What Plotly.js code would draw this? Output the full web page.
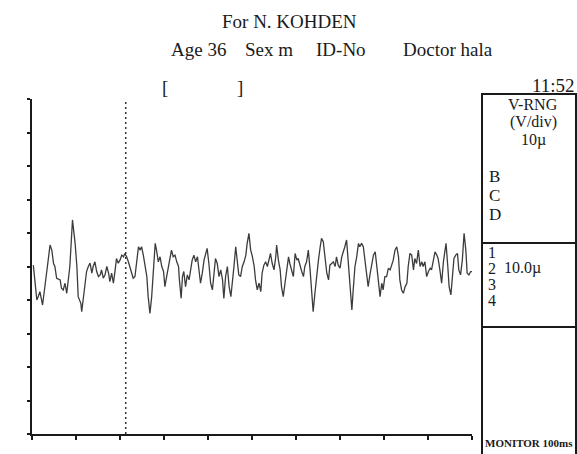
<!DOCTYPE html>
<html>
<head>
<meta charset="utf-8">
<script src="https://cdn.plot.ly/plotly-3.0.1.min.js"></script>
<style>html,body{margin:0;padding:0;background:#fff;}#chart{width:577px;height:454px;}</style>
</head>
<body>
<div id="chart"></div>
<script>
// Sweep time (ms) and amplitude (µV)
const timeMs = [3,11,14,18,24,30,35,41,45,49,52,56,64,67,71,75,79,86,92,98,
102,105,111,113,117,121,124,128,132,136,139,143,147,151,155,158,162,166,170,174,
177,181,185,189,192,196,200,204,208,211,215,219,223,227,230,234,238,242,246,249,
253,257,261,264,268,272,276,280,283,287,291,295,299,302,306,310,314,317,321,325,
329,333,335,339,342,345,349,353,357,361,364,368,372,376,380,383,387,391,395,398,
402,406,410,414,417,421,425,429,433,436,440,444,448,452,455,459,463,467,470,474,
478,482,486,489,493,497,501,505,508,512,516,520,523,527,531,535,539,542,546,550,
554,556,560,564,567,571,575,579,583,586,590,594,598,602,605,609,613,617,620,624,
628,632,636,639,643,647,651,655,658,662,666,670,674,677,681,685,689,692,696,700,
704,708,711,715,719,723,727,730,734,738,742,745,749,753,757,761,764,768,772,776,
780,783,787,791,795,798,802,806,810,814,817,821,825,829,833,836,840,844,848,852,
855,859,863,867,870,874,878,882,886,889,893,897,901,905,908,912,916,920,923,927,
931,935,939,941,945,948,952,955,959,963,967,970,974,978,982,986,989,993,997,1000];
const ampUV = [0.4,-10,-9,-7.5,-11.5,-6,0,6.4,4.9,0.9,0,-3.5,-4,-6.5,-7,-5,-8,0,13.9,6.9,
0,-9,-11,-13.5,-9,-3,-1.5,0,1,-2,0,1.4,-1.5,-3,-2.5,-1,-3.5,-2.5,0,-2,
-4.5,-2,-5,-1,2.4,1,1.9,3.4,2.9,3.9,2.9,1.4,-0.5,-2.5,-3.5,-3,1.4,5.9,4.9,5.9,
3.4,0.4,-3,-9,-14,-9,0,6.9,4.9,1.4,2.9,0,-1.5,-6,-3,0,2.9,4.9,2.9,3.4,
1.4,0,-4,-9.5,-3,-1.5,-6,-2.5,-4,0,1.9,3.4,1.4,2.9,-1.5,-5,-2,1.9,3.9,5.4,
0.9,-5,-7,0,2.4,0.9,-3,-1,-4,-9.5,-3,0,-6,-9,-4,0,5.9,1.9,-2.5,-3,
0,1.4,3.4,6.9,9.9,4.9,2.9,0,-4,-7,-5,-7.5,-2,0.4,1.4,0,2.4,3.9,0.9,-1,
2.9,6.4,1.9,-1,-6,-9,-5,0,2.9,0.9,-1,-3,3.9,1.9,2.4,0,-1.5,-3,0,1.4,
4.9,-1,-8,-13.5,-8,-2,1.9,5.9,8.4,7.4,1.9,-2,-4,0.4,0.9,1.4,0,2.9,0.4,-0.5,
2.9,4.4,5.9,7.9,0.9,-7,-13,-7,0,2.9,6.9,5.9,6.9,5.9,0.9,-2.5,-6,-2.5,0,3.4,
4.4,0,-4,-9,-5,-7,-3,-3,-0.5,-1,0.4,1.9,4.9,5.9,2.9,-4,-7,-8,-6,-5,
0,3.9,3.4,-1,2.4,0.9,4.9,0,1.4,0,1.4,-3,-1.5,-0.5,-1,1.4,4.4,3.4,2.4,-1,
-5,1.4,5.9,6.9,0,-6,-8.5,-3,2.4,3.4,3.9,-1,-2.5,1.9,9.9,4.9,-2,-2.5,-1.5,-1.5];
const cursorMs = 213;
const headerTitle = "For N. KOHDEN";
const headerFields = ["Age 36", "Sex m", "ID-No", "Doctor hala"];
const clockText = "11:52";
const rangeLines = ["V-RNG", "(V/div)", "10µ"];
const channelLetters = ["B", "C", "D"];
const channelNums = ["1", "2", "3", "4"];
const chan2Range = "10.0µ";
const monitorText = "MONITOR 100ms";

const L = 32, R = 472, T = 99, B = 434;
const px = x => (x - L) / (R - L);
const py = y => (B - y) / (B - T);
const serif = "Liberation Serif, Times New Roman, serif";
const ink = "#1a1a1a";
const fs = 19;

function txt(text, x, y, xa, size) {
  return {
    text: text, xref: "paper", yref: "paper", x: px(x), y: py(y),
    xanchor: xa, yanchor: "middle", showarrow: false,
    font: {family: serif, size: size, color: ink}
  };
}

const ann = [];
ann.push(txt(headerTitle, 289, 21, "center", fs));
const fieldX = [169, 243, 314, 401];
headerFields.forEach((f, i) => ann.push(txt(f, fieldX[i], 50, "left", fs)));
ann.push(txt("[", 160, 87, "left", fs));
ann.push(txt("]", 235, 87, "left", fs));
ann.push(txt(clockText, 577, 86, "right", fs));
const rngY = [104, 122, 140];
rangeLines.forEach((t, i) => ann.push(txt(t, 533, rngY[i], "center", 16)));
const letY = [176, 195, 214];
channelLetters.forEach((t, i) => ann.push(txt(t, 487, letY[i], "left", 17)));
const numY = [252, 268, 284, 300];
channelNums.forEach((t, i) => ann.push(txt(t, 486, numY[i], "left", 16)));
ann.push(txt(chan2Range, 502, 268, "left", 16));
ann.push(txt("<b>" + monitorText + "</b>", 483, 443, "left", 11));

const boxLine = {color: ink, width: 2};
const shapes = [
  {type: "line", xref: "x", yref: "paper", x0: cursorMs, x1: cursorMs, y0: 0, y1: 1,
   line: {color: "#333", width: 1.5, dash: "2px,3px"}},
  {type: "rect", xref: "paper", yref: "paper", x0: px(482), x1: px(576), y0: py(460), y1: py(94),
   line: boxLine},
  {type: "line", xref: "paper", yref: "paper", x0: px(482), x1: px(576), y0: py(243), y1: py(243), line: boxLine},
  {type: "line", xref: "paper", yref: "paper", x0: px(482), x1: px(576), y0: py(327), y1: py(327), line: boxLine}
];

const trace = {
  x: timeMs, y: ampUV, type: "scatter", mode: "lines",
  line: {color: "#3c3c3c", width: 1.3}, hoverinfo: "skip"
};

const layout = {
  width: 577, height: 454,
  margin: {l: L, r: 577 - R, t: T, b: 454 - B, pad: 0},
  paper_bgcolor: "#fff", plot_bgcolor: "#fff",
  showlegend: false,
  xaxis: {range: [0, 1000], dtick: 100, tick0: 0, ticks: "outside", ticklen: 4, tickwidth: 2,
          tickcolor: ink, showticklabels: false, showgrid: false, zeroline: false,
          showline: true, linewidth: 2, linecolor: ink, fixedrange: true},
  yaxis: {range: [-50, 50], dtick: 10, tick0: 0, ticks: "outside", ticklen: 3, tickwidth: 2,
          tickcolor: ink, showticklabels: false, showgrid: false, zeroline: false,
          showline: true, linewidth: 2, linecolor: ink, fixedrange: true},
  annotations: ann,
  shapes: shapes
};

Plotly.newPlot("chart", [trace], layout, {displayModeBar: false, staticPlot: true});
</script>
</body>
</html>
